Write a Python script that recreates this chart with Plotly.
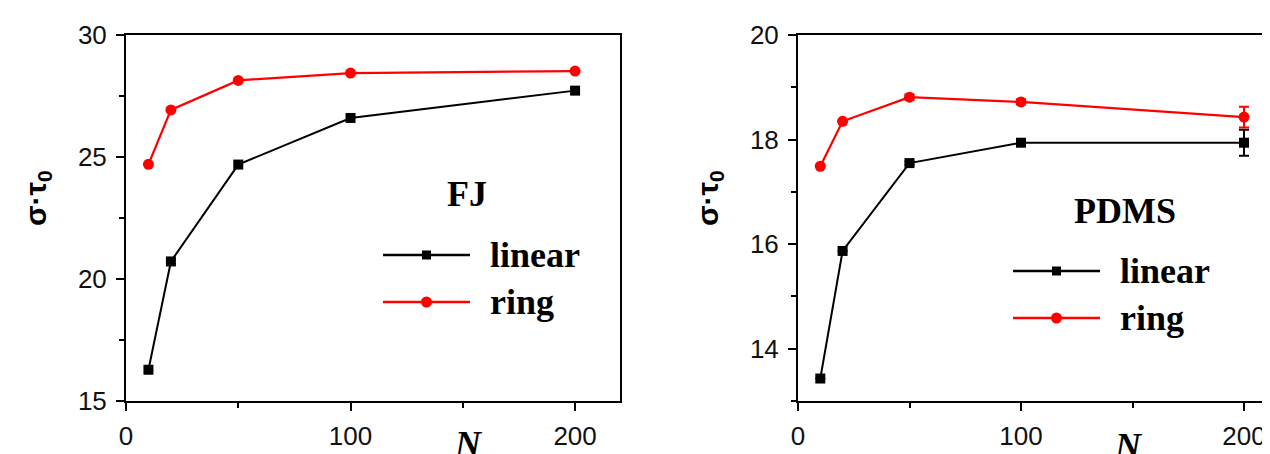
import plotly.graph_objects as go

W, H = 1270, 454

# ---- data ----
N = [10, 20, 50, 100, 200]
fj_linear = [16.28, 20.72, 24.69, 26.60, 27.72]
fj_ring = [24.70, 26.93, 28.14, 28.44, 28.52]
pdms_linear = [13.43, 15.87, 17.55, 17.94, 17.94]
pdms_linear_err = [0.0, 0.0, 0.03, 0.06, 0.25]
pdms_ring = [17.49, 18.35, 18.81, 18.72, 18.43]
pdms_ring_err = [0.0, 0.0, 0.05, 0.05, 0.20]

x_ticks = [0, 100, 200]
fj_yticks = [15, 20, 25, 30]
pdms_yticks = [14, 16, 18, 20]
series_names = ["linear", "ring"]
panel_labels = ["FJ", "PDMS"]

BLACK = "#000000"
RED = "#ff0000"


def px(x):
    return x / W


def py(y):
    return 1 - y / H


fig = go.Figure()

# left panel (FJ)
fig.add_trace(go.Scatter(x=N, y=fj_linear, mode="lines+markers", name="linear",
                         line=dict(color=BLACK, width=2),
                         marker=dict(symbol="square", size=10, color=BLACK),
                         xaxis="x", yaxis="y", showlegend=False))
fig.add_trace(go.Scatter(x=N, y=fj_ring, mode="lines+markers", name="ring",
                         line=dict(color=RED, width=2.2),
                         marker=dict(symbol="circle", size=11, color=RED),
                         xaxis="x", yaxis="y", showlegend=False))
# right panel (PDMS)
fig.add_trace(go.Scatter(x=N, y=pdms_linear, mode="lines+markers", name="linear",
                         line=dict(color=BLACK, width=2),
                         marker=dict(symbol="square", size=10, color=BLACK),
                         error_y=dict(type="data", array=pdms_linear_err, color=BLACK,
                                      thickness=2, width=5),
                         xaxis="x2", yaxis="y2", showlegend=False))
fig.add_trace(go.Scatter(x=N, y=pdms_ring, mode="lines+markers", name="ring",
                         line=dict(color=RED, width=2.2),
                         marker=dict(symbol="circle", size=11, color=RED),
                         error_y=dict(type="data", array=pdms_ring_err, color=RED,
                                      thickness=2, width=5),
                         xaxis="x2", yaxis="y2", showlegend=False))

tickfont = dict(family="Liberation Sans, Arial, sans-serif", size=26, color="#111")

y_dom = [py(393), py(27)]

common_ax = dict(showgrid=False, zeroline=False, showline=True, linecolor=BLACK,
                 linewidth=2, ticks="outside", ticklen=8, tickwidth=2,
                 tickcolor=BLACK, tickfont=tickfont, automargin=False)

minor_x = dict(tickvals=[50, 150], ticks="outside", ticklen=5, tickwidth=2,
               tickcolor=BLACK)

fig.update_layout(
    width=W, height=H,
    margin=dict(l=0, r=0, t=0, b=0),
    paper_bgcolor="white", plot_bgcolor="white",
    showlegend=False,
    xaxis=dict(domain=[px(118), px(612)], range=[0, 220], tickvals=x_ticks,
               mirror=True, anchor="y", minor=minor_x, ticklabelstandoff=3,
               **common_ax),
    yaxis=dict(domain=y_dom, range=[15, 30], tickvals=fj_yticks, mirror=True,
               anchor="x", ticklabelstandoff=4,
               minor=dict(tickvals=[17.5, 22.5, 27.5], ticks="outside", ticklen=5,
                          tickwidth=2, tickcolor=BLACK),
               **common_ax),
    xaxis2=dict(domain=[px(790), 1.0], range=[0, (1270 - 790) / 2.23],
                tickvals=x_ticks, mirror=True, anchor="y2", minor=minor_x,
                ticklabelstandoff=3, **common_ax),
    yaxis2=dict(domain=y_dom, range=[13, 20], tickvals=pdms_yticks, mirror=False,
                anchor="x2", ticklabelstandoff=4,
                minor=dict(tickvals=[13, 15, 17, 19], ticks="outside", ticklen=5,
                           tickwidth=2, tickcolor=BLACK),
                **common_ax),
)

serif = "Liberation Serif, Times New Roman, serif"
ann = []
# axis titles
for cx, cy in [(30, 190), (702, 190)]:
    ann.append(dict(x=px(cx), y=py(cy), xref="paper", yref="paper",
                    text="<b>σ·τ<sub>0</sub></b>", textangle=-90, showarrow=False,
                    font=dict(family="Liberation Sans, Arial, sans-serif", size=30,
                              color=BLACK),
                    xanchor="center", yanchor="middle"))
for cx, cy in [(460, 436), (1120, 438)]:
    ann.append(dict(x=px(cx), y=py(cy), xref="paper", yref="paper",
                    text="<b><i>N</i></b>", showarrow=False,
                    font=dict(family=serif, size=36, color=BLACK),
                    xanchor="center", yanchor="middle"))

# panel labels and manual legends
panels = [
    dict(label=panel_labels[0], lx=459, ly=186, x0=375, x1=462, ty=[247, 294], tx=480),
    dict(label=panel_labels[1], lx=1117, ly=203, x0=1005, x1=1092, ty=[263, 310], tx=1110),
]
shapes = []
for p in panels:
    ann.append(dict(x=px(p["lx"]), y=py(p["ly"]), xref="paper", yref="paper",
                    text="<b>%s</b>" % p["label"], showarrow=False,
                    font=dict(family=serif, size=36, color=BLACK),
                    xanchor="center", yanchor="middle"))
    for name, yy, col, sym in zip(series_names, p["ty"], [BLACK, RED], ["rect", "circle"]):
        ann.append(dict(x=px(p["tx"]), y=py(yy), xref="paper", yref="paper",
                        text="<b>%s</b>" % name, showarrow=False,
                        font=dict(family=serif, size=36, color=BLACK),
                        xanchor="left", yanchor="middle"))
        shapes.append(dict(type="line", xref="paper", yref="paper",
                           x0=px(p["x0"]), x1=px(p["x1"]), y0=py(yy), y1=py(yy),
                           line=dict(color=col, width=2.5)))
        mx = (p["x0"] + p["x1"]) / 2
        r = 4.5 if sym == "rect" else 5.5
        shapes.append(dict(type=sym, xref="paper", yref="paper",
                           x0=px(mx - r), x1=px(mx + r), y0=py(yy - r), y1=py(yy + r),
                           fillcolor=col, line=dict(color=col, width=0)))

fig.update_layout(annotations=ann, shapes=shapes)

fig.write_html("out.html")
